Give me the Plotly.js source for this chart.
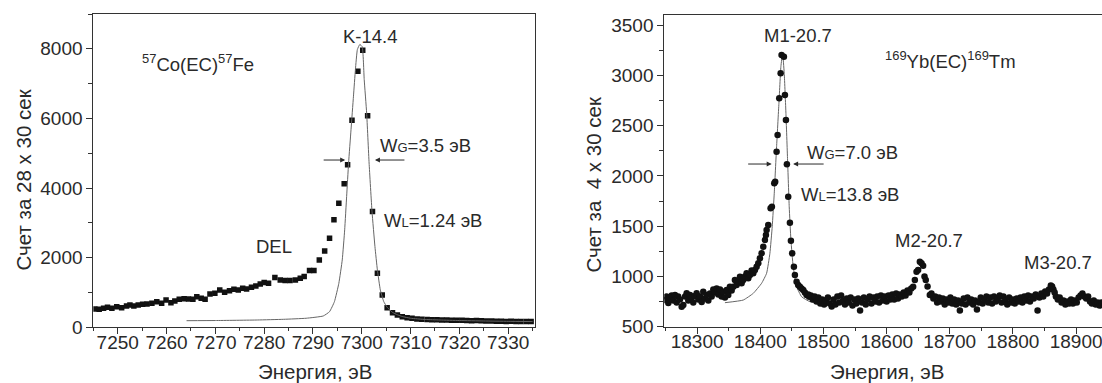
<!DOCTYPE html>
<html><head><meta charset="utf-8">
<script src="https://cdn.plot.ly/plotly-3.0.1.min.js"></script>
<style>html,body{margin:0;padding:0;background:#fff;overflow:hidden}#chart{width:1102px;height:383px}</style>
</head><body><div id="chart"></div>
<script>
// ---- Left panel: 57Co(EC)57Fe, K-14.4 line ----
const coEnergy = [7245.3,7246.2,7247.1,7247.9,7248.8,7249.8,7250.8,7251.8,7252.5,7253.3,7254.2,7255.1,7256.0,7257.0,7258.0,7259.0,7259.9,7260.9,7261.7,7262.6,7263.6,7264.5,7265.4,7266.2,7267.1,7267.9,7268.9,7269.9,7270.9,7271.9,7272.9,7273.8,7274.7,7275.6,7276.4,7277.4,7278.3,7279.2,7280.0,7280.9,7282.2,7283.3,7284.3,7285.3,7286.4,7287.4,7288.2,7289.3,7290.2,7291.3,7292.4,7293.4,7294.3,7295.3,7296.4,7297.1,7298.0,7299.2,7300.2,7301.2,7302.2,7303.2,7304.2,7305.2,7306.3,7307.3,7308.3,7309.3,7310.3,7311.3,7312.3,7313.4,7314.4,7315.4,7316.4,7317.4,7318.4,7319.4,7320.5,7321.5,7322.5,7323.5,7324.5,7325.5,7326.6,7327.6,7328.6,7329.6,7330.6,7331.6,7332.6,7333.7,7334.7];
const coCounts = [527,518,547,576,547,593,564,613,642,613,642,662,671,690,737,690,786,708,757,806,823,814,806,881,834,806,958,979,1073,1007,1053,1094,1073,1122,1102,1151,1189,1246,1284,1266,1428,1361,1342,1342,1361,1409,1457,1630,1630,1936,2195,2560,3088,3567,4124,4671,5946,7357,7961,6081,3327,1554,930,560,421,354,306,276,259,240,230,225,220,215,211,211,205,200,200,195,191,195,185,180,182,175,172,170,175,168,165,170,165];
const coFitEnergy = [7264.1,7270,7278.6,7284,7288.6,7292.1,7293.4,7294.4,7295.3,7296,7296.5,7296.9,7297.3,7297.8,7298.3,7298.7,7299.1,7299.6,7300.1,7300.5,7301,7301.5,7302.1,7302.7,7303.2,7303.8,7304.5,7305.2,7306.3,7307.3,7308.3,7310,7313,7316,7320,7325,7330,7335];
const coFitCounts = [190,195,210,230,260,325,450,737,1263,1935,2800,3760,4720,5680,6640,7405,7980,8125,8060,7118,6158,4720,3327,2320,1650,1075,740,576,430,360,310,260,225,210,195,182,172,165];

// ---- Right panel: 169Yb(EC)169Tm, M1/M2/M3-20.7 lines ----
const ybEnergy = [18249,18251.5,18254.4,18257,18259.7,18262.3,18265,18267.6,18270,18272.8,18275.5,18278.1,18281,18283.4,18286,18288.7,18291.3,18293.9,18296.5,18299.2,18302,18304.5,18307.2,18309.7,18312.4,18315,18317.7,18320.3,18323,18325.6,18328.2,18330.9,18333.5,18336.2,18338.8,18341.4,18344,18346.7,18349.3,18351.9,18354.6,18357.2,18359.8,18362.5,18365.1,18367.8,18370.4,18373,18375.7,18378.3,18381,18383.6,18386.3,18388.9,18391.5,18394.2,18396.8,18399.4,18402.1,18404.7,18407.3,18408.9,18410,18412.6,18416.3,18418.4,18422.1,18423.6,18425.8,18427.4,18430,18432.2,18433.7,18437.4,18439,18440.6,18442.1,18444.2,18446.9,18448.5,18450.5,18453.2,18454.8,18457.5,18460,18462.7,18465.3,18468,18470.6,18473.3,18475.9,18477.4,
18480,18483,18486,18489,18492,18495,18498,18501,18504,18507,18510,18513,18516,18519,18522,18525,18528,18531,18534,18537,18540,18543,18546,18549,18552,18555,18558,18561,18564,18567,18570,18573,18576,18579,18582,18585,18588,18591,18594,18597,18600,18603,18606,18609,18612,18615,18618,18621,18624,18627,18630,18633,18636,18639,18642,
18644.7,18647.4,18649.9,18652.6,18655.3,18657.8,18660,18662,18664.8,18668.4,
18671,18674,18677,18680,18683,18686,18689,18692,18695,18698,18701,18704,18707,18710,18713,18716,18719,18722,18725,18728,18731,18734,18737,18740,18743,18746,18749,18752,18755,18758,18761,18764,18767,18770,18773,18776,18779,18782,18785,18788,18791,18794,18797,18800,18803,18806,18809,18812,18815,18818,18821,18824,18827,18830,18833,18836,18839,18842,18845,18848,18851,18854,18857,18860,
18862,18864,18866,18868,
18871,18874,18877,18880,18883,18886,18889,18892,18895,18898,18901,18904,18907,18910,18913,18916,18919,18922,18925,18928,18931,18934,18937,18940];
const ybCounts = [765,800,735,790,810,760,815,740,800,770,699,716,800,832,760,815,790,740,805,832,770,800,745,848,780,815,760,830,800,870,840,880,820,870,800,848,790,865,815,898,860,898,964,915,950,997,931,964,1000,1031,981,1014,1060,1031,1064,1097,1130,1180,1230,1296,1362,1412,1462,1511,1677,1693,1926,1942,2240,2406,2771,3020,3202,3185,2804,2556,2115,1793,1534,1355,1230,1097,1014,948,915,898,880,865,840,815,820,798,
810,770,800,750,790,730,770,720,760,790,730,700,770,720,800,740,810,760,720,780,740,790,710,770,730,780,660,740,790,720,770,800,730,790,750,800,740,810,760,800,750,810,770,820,770,830,780,820,800,840,810,860,840,880,898,
964,1047,1065,1147,1131,1105,1000,965,900,816,
830,780,800,740,790,750,780,720,770,740,790,730,770,720,760,660,730,780,720,790,740,770,720,760,670,740,790,730,770,800,740,790,730,800,750,780,810,740,800,760,720,790,740,770,730,780,750,790,740,800,760,810,750,800,780,820,660,790,830,800,850,830,870,910,
900,870,840,800,
770,790,740,760,720,750,730,770,730,760,740,790,810,830,800,780,800,750,730,760,720,740,710,740];
const ybFitEnergy = [18344,18373,18388.9,18402.1,18410,18415.2,18418.9,18422.1,18425.8,18429.5,18432.6,18435.3,18437.9,18440.6,18443.2,18445.8,18448.5,18452.1,18457.5,18465.4,18478.5,18500];
const ybFitCounts = [739,765,832,932,1031,1230,1495,1827,2290,2722,3086,3219,3020,2622,2158,1693,1362,1097,898,798,749,740];

// ---- Axis titles ----
const leftTitleX = 'Энергия, эВ';
const leftTitleY = 'Счет за 28 х 30 сек';
const rightTitleX = 'Энергия, эВ';
const rightTitleY = 'Счет за  4 х 30 сек';

const FONT = 'Arial, "Liberation Sans", sans-serif';
const INK = '#2a2a2a';
const AX = '#333';

const traces = [
  {x: coEnergy, y: coCounts, xaxis: 'x', yaxis: 'y', type: 'scatter', mode: 'markers',
   marker: {symbol: 'square', size: 5.5, color: '#111'}},
  {x: coFitEnergy, y: coFitCounts, xaxis: 'x', yaxis: 'y', type: 'scatter', mode: 'lines',
   line: {color: '#666', width: 1, shape: 'spline', smoothing: 0.4}},
  {x: ybFitEnergy, y: ybFitCounts, xaxis: 'x2', yaxis: 'y2', type: 'scatter', mode: 'lines',
   line: {color: '#666', width: 1, shape: 'spline', smoothing: 0.4}},
  {x: ybEnergy, y: ybCounts, xaxis: 'x2', yaxis: 'y2', type: 'scatter', mode: 'markers',
   marker: {symbol: 'circle', size: 6.5, color: '#111'}}
];

function axis(extra) {
  return Object.assign({
    showline: true, linecolor: AX, linewidth: 1, mirror: true,
    ticks: 'outside', ticklen: 6, tickwidth: 1, tickcolor: AX,
    showgrid: false, zeroline: false, fixedrange: true, tickformat: 'd',
    ticklabeloverflow: 'allow',
    tickfont: {family: FONT, size: 19, color: INK}
  }, extra);
}

const txt = size => ({family: FONT, size: size || 18.5, color: INK});
const small = s => '<span style="font-size:13px">' + s + '</span>';

function label(text, x, y, xref, yref, size, angle) {
  return {text: text, x: x, y: y, xref: xref, yref: yref, showarrow: false,
          font: txt(size), xanchor: 'center', yanchor: 'middle', textangle: angle || 0};
}
function arrow(x, y, ax, xref, yref) {
  return {text: '', x: x, y: y, xref: xref, yref: yref, showarrow: true,
          ax: ax, ay: 0, arrowhead: 2, arrowsize: 1, arrowwidth: 1, arrowcolor: INK};
}

const layout = {
  width: 1102, height: 383,
  margin: {l: 0, r: 0, t: 0, b: 0},
  paper_bgcolor: '#fff', plot_bgcolor: '#fff',
  showlegend: false,
  xaxis: axis({domain: [0.0847, 0.4855], range: [7245, 7335.5], anchor: 'y',
               tick0: 7250, dtick: 10, ticklabelstandoff: -8,
               minor: {dtick: 5, tick0: 7250, ticks: 'outside', ticklen: 3, tickcolor: AX, showgrid: false}}),
  yaxis: axis({domain: [0.1454, 0.9634], range: [0, 9000], anchor: 'x',
               tick0: 0, dtick: 2000,
               minor: {dtick: 1000, ticks: 'outside', ticklen: 4, tickcolor: AX, showgrid: false}}),
  xaxis2: axis({domain: [0.6028, 1], range: [18248, 18941], anchor: 'y2',
                tick0: 18300, dtick: 100, ticklabelstandoff: -8,
                minor: {dtick: 50, tick0: 18300, ticks: 'outside', ticklen: 3, tickcolor: AX, showgrid: false}}),
  yaxis2: axis({domain: [0.147, 0.9608], range: [500, 3600], anchor: 'x2', mirror: false,
                tick0: 500, dtick: 500,
                minor: {dtick: 250, ticks: 'outside', ticklen: 4, tickcolor: AX, showgrid: false}}),
  annotations: [
    // axis titles
    label(leftTitleX, 315/1102, 1 - 371/383, 'paper', 'paper', 20.5),
    label(rightTitleX, 887/1102, 1 - 371/383, 'paper', 'paper', 20.5),
    label(leftTitleY, 22.5/1102, 1 - 180/383, 'paper', 'paper', 20.5, -90),
    label(rightTitleY, 592.5/1102, 1 - 185/383, 'paper', 'paper', 20.5, -90),
    // left panel labels
    label('<sup>57</sup>Co(EC)<sup>57</sup>Fe', 7266.5, 7593, 'x', 'y'),
    label('K-14.4', 7301.7, 8368, 'x', 'y'),
    label('W' + small('G') + '=3.5 эВ', 7313.1, 5237, 'x', 'y'),
    label('W' + small('L') + '=1.24 эВ', 7314.5, 3082, 'x', 'y'),
    label('DEL', 7282.0, 2315, 'x', 'y'),
    arrow(7296.6, 4806, -23, 'x', 'y'),
    arrow(7302.7, 4806, 31, 'x', 'y'),
    // right panel labels
    label('M1-20.7', 18459.5, 3401, 'x2', 'y2'),
    label('<sup>169</sup>Yb(EC)<sup>169</sup>Tm', 18700.9, 3152, 'x2', 'y2'),
    label('W' + small('G') + '=7.0 эВ', 18546.6, 2237, 'x2', 'y2'),
    label('W' + small('L') + '=13.8 эВ', 18541.8, 1810, 'x2', 'y2'),
    label('M2-20.7', 18666.8, 1362, 'x2', 'y2'),
    label('M3-20.7', 18871, 1143, 'x2', 'y2'),
    arrow(18418, 2118, -25, 'x2', 'y2'),
    arrow(18452, 2118, 32, 'x2', 'y2')
  ]
};

Plotly.newPlot('chart', traces, layout, {staticPlot: true, displayModeBar: false});
</script>
</body></html>
